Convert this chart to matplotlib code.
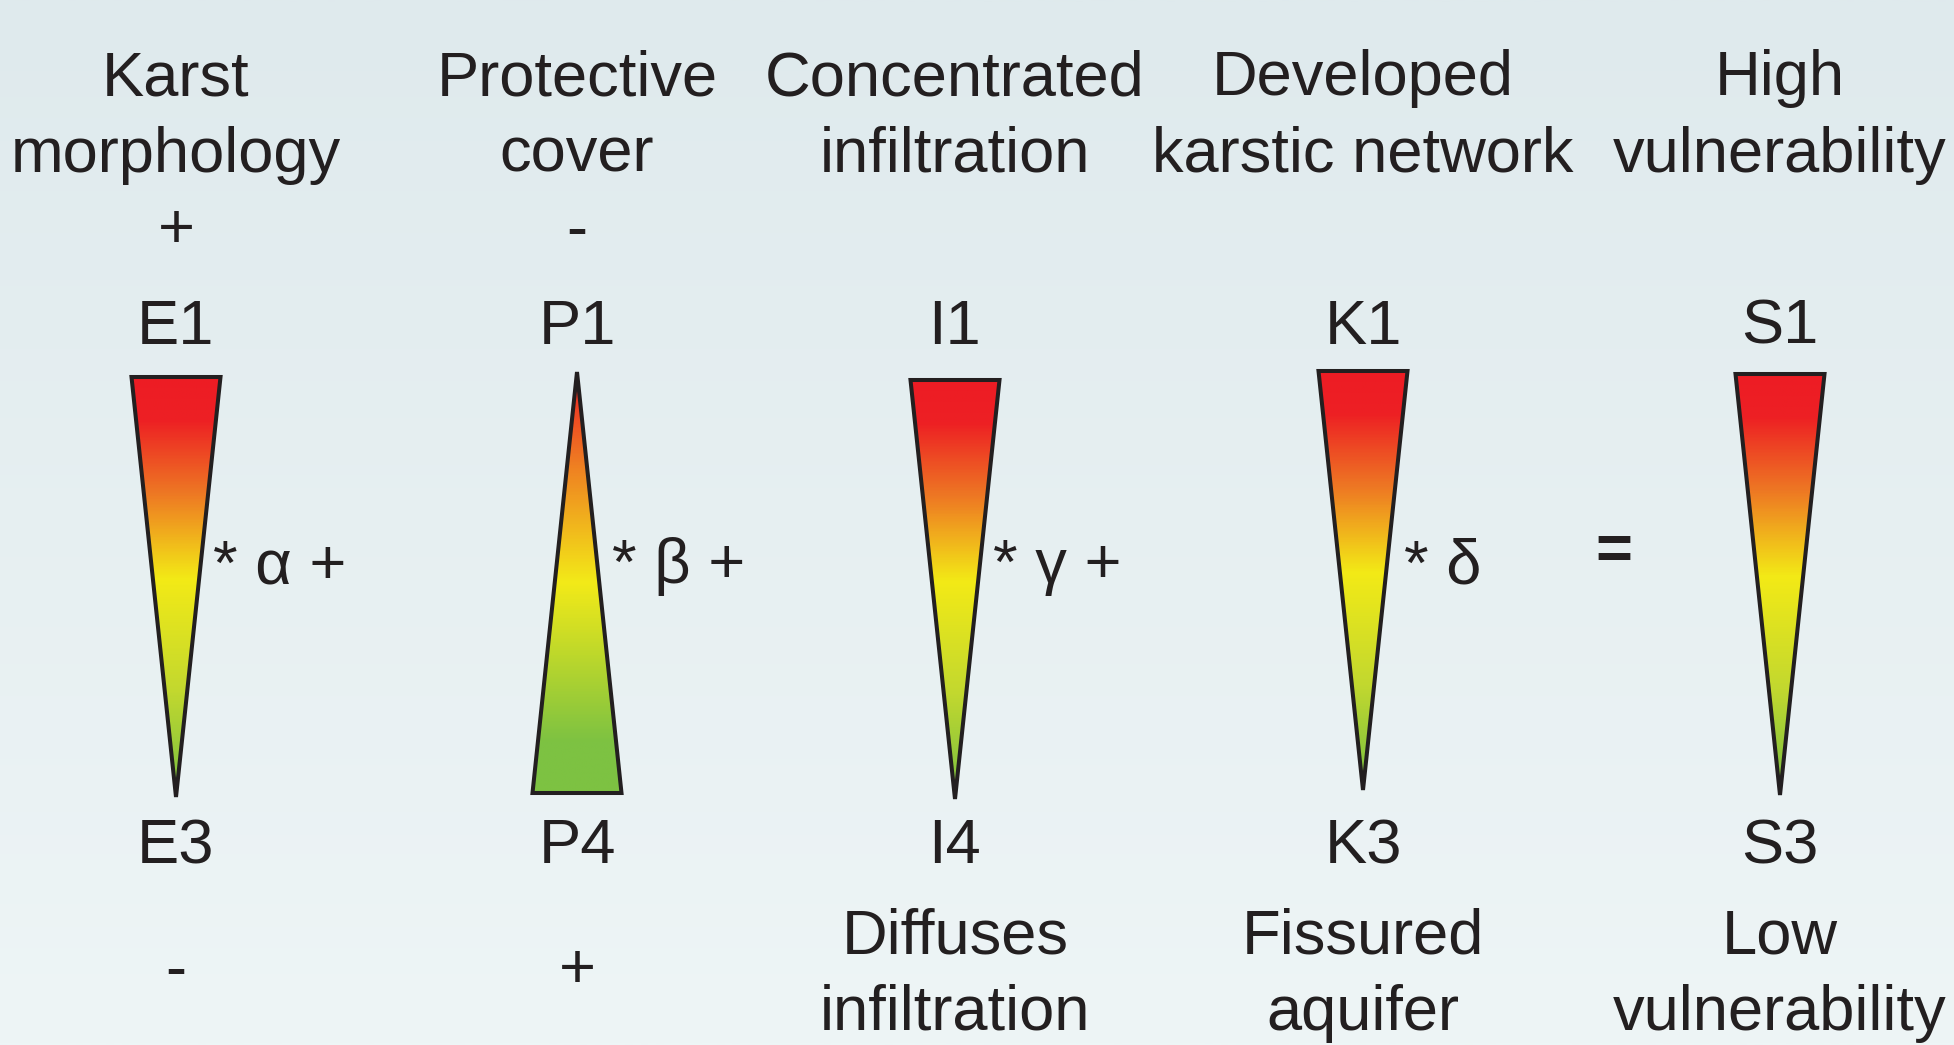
import numpy as np
import matplotlib
matplotlib.use("Agg")
import matplotlib.pyplot as plt
from matplotlib.patches import Polygon
from matplotlib.colors import LinearSegmentedColormap, to_rgb

# ---- content ----
titles = [["Karst", "morphology"], ["Protective", "cover"], ["Concentrated", "infiltration"],
          ["Developed", "karstic network"], ["High", "vulnerability"]]
top_signs = ["+", "-", "", "", ""]
top_codes = ["E1", "P1", "I1", "K1", "S1"]
bottom_codes = ["E3", "P4", "I4", "K3", "S3"]
bottom_signs = ["-", "+", "", "", ""]
bottom_labels = [[], [], ["Diffuses", "infiltration"], ["Fissured", "aquifer"], ["Low", "vulnerability"]]
weights = ["* α +", "* β +", "* γ +", "* δ", ""]
pointing_up = [False, True, False, False, False]

# ---- layout (pixel coordinates of the 1954x1045 canvas) ----
W, H = 1954, 1045
col_x = [176, 577, 955, 1363, 1780]
tri_top = [377, 372, 380, 371, 374]
tri_bot = [797, 793, 799, 790, 795]
tri_half = 44.5
weight_x = [213, 612, 993, 1404, None]
weight_y = 583
eq_x, eq_y = 1614, 569

FS = 45.5
TXT = "#231f20"
plt.rcParams['font.family'] = ['Liberation Sans', 'DejaVu Sans']

fig = plt.figure(figsize=(W / 100, H / 100), dpi=100)
ax = fig.add_axes([0, 0, 1, 1])
ax.set_xlim(0, W)
ax.set_ylim(H, 0)
ax.axis('off')

# background gradient
c_top, c_bot = np.array(to_rgb("#dfeaed")), np.array(to_rgb("#eef5f6"))
t = np.linspace(0, 1, 256)[:, None, None]
bg = c_top * (1 - t) + c_bot * t
ax.imshow(bg, extent=[0, W, H, 0], aspect='auto', zorder=0, interpolation='bilinear')

cmap_down = LinearSegmentedColormap.from_list("down", [
    (0.0, "#ed1c24"), (0.10, "#ed2024"), (0.28, "#ee7a23"), (0.48, "#f3ea16"),
    (0.75, "#c2d82f"), (1.0, "#76bf41")])
cmap_up = LinearSegmentedColormap.from_list("up", [
    (0.0, "#ed1c24"), (0.22, "#ef7f22"), (0.50, "#f3ea18"), (0.88, "#7dc242"), (1.0, "#7dc242")])

for i in range(5):
    cx, y0, y1 = col_x[i], tri_top[i], tri_bot[i]
    if pointing_up[i]:
        verts = [(cx, y0), (cx + tri_half, y1), (cx - tri_half, y1)]
        cmap = cmap_up
    else:
        verts = [(cx - tri_half, y0), (cx + tri_half, y0), (cx, y1)]
        cmap = cmap_down
    grad = cmap(np.linspace(0, 1, 400))[:, None, :3]
    poly = Polygon(verts, closed=True, facecolor='none', edgecolor=TXT, lw=2.9,
                   joinstyle='miter', zorder=3)
    ax.add_patch(poly)
    im = ax.imshow(grad, extent=[cx - tri_half, cx + tri_half, y1, y0], aspect='auto',
                   zorder=2, interpolation='bilinear')
    im.set_clip_path(poly)

    # titles
    ax.text(cx, 95, titles[i][0], ha='center', va='baseline', fontsize=FS, color=TXT)
    ax.text(cx, 172, titles[i][1], ha='center', va='baseline', fontsize=FS, color=TXT)
    if top_signs[i]:
        ax.text(cx, 248, top_signs[i], ha='center', va='baseline', fontsize=FS, color=TXT)
    ax.text(cx, 344, top_codes[i], ha='center', va='baseline', fontsize=FS, color=TXT)
    ax.text(cx, 863, bottom_codes[i], ha='center', va='baseline', fontsize=FS, color=TXT)
    if bottom_signs[i]:
        ax.text(cx, 988, bottom_signs[i], ha='center', va='baseline', fontsize=FS, color=TXT)
    for j, line in enumerate(bottom_labels[i]):
        ax.text(cx, 953 + 77 * j, line, ha='center', va='baseline', fontsize=FS, color=TXT)
    if weights[i]:
        ax.text(weight_x[i], weight_y, weights[i], ha='left', va='baseline', fontsize=FS, color=TXT)

ax.text(eq_x, eq_y, "=", ha='center', va='baseline', fontsize=FS, color=TXT, fontweight='bold')

fig.savefig("out.png", dpi=100)
